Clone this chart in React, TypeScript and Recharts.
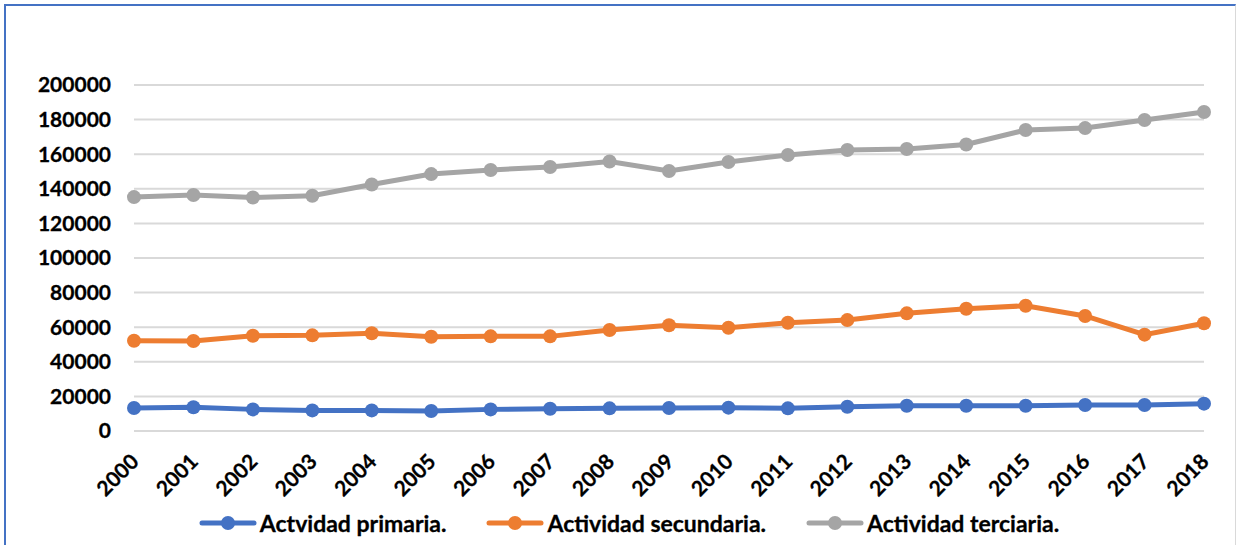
import React from 'react';
import { LineChart, Line, XAxis, YAxis, CartesianGrid, Legend } from 'recharts';

const years = ['2000', '2001', '2002', '2003', '2004', '2005', '2006', '2007', '2008', '2009', '2010', '2011', '2012', '2013', '2014', '2015', '2016', '2017', '2018'];
const primaria = [13300, 13700, 12500, 11900, 11900, 11600, 12500, 12900, 13100, 13300, 13500, 13100, 14000, 14600, 14600, 14600, 15000, 15000, 15800];
const secundaria = [52200, 52000, 55100, 55300, 56500, 54500, 54700, 54700, 58400, 61100, 59700, 62600, 64100, 68000, 70700, 72400, 66500, 55700, 62300];
const terciaria = [135200, 136400, 135000, 136000, 142500, 148500, 150900, 152600, 155800, 150300, 155500, 159500, 162400, 163000, 165600, 174000, 175100, 179800, 184400];
const yTicks = [0, 20000, 40000, 60000, 80000, 100000, 120000, 140000, 160000, 180000, 200000];
const seriesKeys = ['primaria', 'secundaria', 'terciaria'];
const seriesNames = ['Actvidad primaria.', 'Actividad secundaria.', 'Actividad terciaria.'];
const colors = ['#4472C4', '#ED7D31', '#A5A5A5'];

const data = years.map((y, i) => ({
  year: y,
  primaria: primaria[i],
  secundaria: secundaria[i],
  terciaria: terciaria[i],
}));

const FONT = 'Lato, "Open Sans", sans-serif';

const XTick = (props: any) => {
  const { x, y, payload } = props;
  return (
    <g transform={`translate(${x},${y})`}>
      <text
        x={6}
        y={24}
        transform="rotate(-45 6 24)"
        textAnchor="end"
        fontFamily={FONT}
        fontWeight={700}
        fontSize={21}
        fill="#000"
        stroke="#000"
        strokeWidth={0.3}
      >
        {payload.value}
      </text>
    </g>
  );
};

const renderLegend = () => (
  <div
    style={{
      display: 'flex',
      justifyContent: 'center',
      alignItems: 'center',
      height: 44,
      paddingLeft: 18,
      fontFamily: FONT,
      fontWeight: 700,
      fontSize: 23,
      color: '#000',
      WebkitTextStroke: '0.3px #000',
    }}
  >
    {seriesNames.map((n, i) => (
      <div key={n} style={{ display: 'flex', alignItems: 'center', marginRight: i < seriesNames.length - 1 ? 40 : 0 }}>
        <svg width={58} height={16} style={{ display: 'block' }}>
          <line x1={3} y1={8} x2={55} y2={8} stroke={colors[i]} strokeWidth={5} strokeLinecap="round" />
          <circle cx={29} cy={8} r={7} fill={colors[i]} />
        </svg>
        <span style={{ marginLeft: 3, whiteSpace: 'nowrap' }}>{n}</span>
      </div>
    ))}
  </div>
);

export default function App() {
  return (
    <div style={{ position: 'absolute', left: 0, top: 0, width: 1240, height: 545, background: '#fff', overflow: 'hidden' }}>
      <div
        style={{
          position: 'absolute',
          left: 4,
          top: 4,
          width: 1232,
          height: 600,
          borderTop: '2px solid #4472C4',
          borderLeft: '2px solid #4472C4',
          borderRight: '1px solid #d9d9d9',
          boxSizing: 'border-box',
        }}
      />
      <div style={{ position: 'absolute', left: 0, top: 0 }}>
        <LineChart width={1240} height={545} data={data} margin={{ top: 85, right: 36, left: 0, bottom: 0 }}>
          <CartesianGrid vertical={false} stroke="#d9d9d9" strokeWidth={2} />
          <XAxis
            dataKey="year"
            axisLine={false}
            tickLine={false}
            height={70}
            interval={0}
            tick={<XTick />}
            padding={{ left: 0, right: 0 }}
          />
          <YAxis
            width={134}
            domain={[0, 200000]}
            ticks={yTicks}
            interval={0}
            axisLine={false}
            tickLine={false}
            tickMargin={17}
            tick={{ fontFamily: FONT, fontWeight: 700, fontSize: 21, fill: '#000', stroke: '#000', strokeWidth: 0.3 }}
          />
          <Legend
            verticalAlign="bottom"
            content={renderLegend}
            wrapperStyle={{ left: 0, width: 1240, height: 44 }}
          />
          {seriesKeys.map((k, i) => (
            <Line
              key={k}
              type="linear"
              dataKey={k}
              name={seriesNames[i]}
              stroke={colors[i]}
              strokeWidth={5}
              dot={{ r: 7, fill: colors[i], stroke: colors[i], strokeWidth: 0 }}
              activeDot={false}
              isAnimationActive={false}
            />
          ))}
        </LineChart>
      </div>
    </div>
  );
}
